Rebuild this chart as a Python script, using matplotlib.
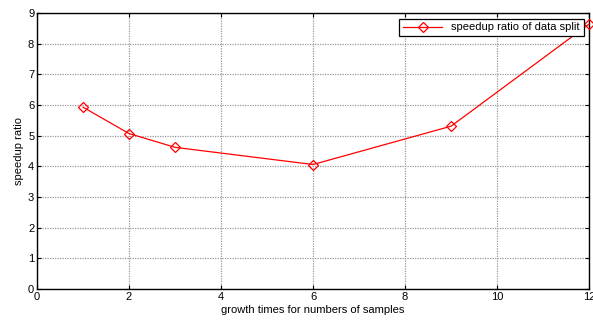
import matplotlib
matplotlib.use("Agg")
import matplotlib.pyplot as plt

x_vals = [1, 2, 3, 6, 9, 12]
speedup = [5.93, 5.07, 4.62, 4.06, 5.31, 8.64]
xticks = [0, 2, 4, 6, 8, 10, 12]
yticks = [0, 1, 2, 3, 4, 5, 6, 7, 8, 9]

plt.rcParams['font.family'] = ['Liberation Sans', 'DejaVu Sans']
fig = plt.figure(figsize=(5.93, 3.22), dpi=100)
ax = fig.add_axes([0.0624, 0.1025, 0.931, 0.857])
ax.plot(x_vals, speedup, color='red', lw=0.9, marker='D', ms=5, mfc='none', mec='red', mew=0.9,
        label='speedup ratio of data split', clip_on=False, zorder=5)
ax.set_xlim(0, 12)
ax.set_ylim(0, 9)
ax.set_xticks(xticks)
ax.set_yticks(yticks)
ax.tick_params(direction='in', top=True, right=True, labelsize=8, length=3, width=0.8, pad=2)
ax.grid(True, color='#999999', linestyle=(0, (1, 1)), linewidth=0.9)
for s in ax.spines.values():
    s.set_linewidth(1.0)
ax.set_xlabel('growth times for numbers of samples', fontsize=8, labelpad=2)
ax.set_ylabel('speedup ratio', fontsize=8, labelpad=3)
leg = ax.legend(loc='upper right', fontsize=8, fancybox=False, framealpha=1, edgecolor='black',
                borderpad=0.35, handlelength=3.5, borderaxespad=0.5)
leg.get_frame().set_linewidth(0.9)
fig.savefig('out.png', dpi=100)
